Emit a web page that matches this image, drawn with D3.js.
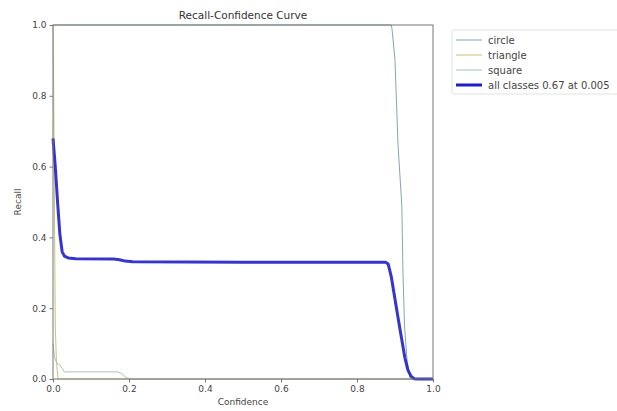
<!DOCTYPE html>
<html>
<head>
<meta charset="utf-8">
<script src="https://cdn.jsdelivr.net/npm/d3@7"></script>
<style>
  html, body { margin: 0; padding: 0; background: #fff; overflow: hidden; }
  #chart { width: 617px; height: 411px; }
  text { font-family: "DejaVu Sans", sans-serif; }
</style>
</head>
<body>
<div id="chart"></div>
<script>
// [confidence, recall] pairs
const circleCurve = [[0, 1.0], [0.89, 1.0], [0.892, 0.99], [0.9, 0.9], [0.908, 0.66], [0.918, 0.49], [0.921, 0.3], [0.925, 0.15], [0.932, 0.05], [0.94, 0.0], [1.0, 0.0]]
const triangleCurve = [[0, 1.0], [0.002, 0.8], [0.004, 0.45], [0.006, 0.15], [0.009, 0.05], [0.013, 0.0], [1.0, 0.0]]
const squareCurve = [[0, 0.1], [0.004, 0.06], [0.01, 0.045], [0.018, 0.04], [0.024, 0.03], [0.03, 0.02], [0.17, 0.02], [0.18, 0.016], [0.19, 0.006], [0.2, 0.0], [1.0, 0.0]]
const allCurve = [[0, 0.68], [0.006, 0.6], [0.012, 0.5], [0.018, 0.41], [0.024, 0.36], [0.03, 0.347], [0.04, 0.342], [0.06, 0.34], [0.16, 0.339], [0.175, 0.337], [0.19, 0.333], [0.21, 0.331], [0.5, 0.33], [0.875, 0.33], [0.882, 0.325], [0.89, 0.29], [0.9, 0.225], [0.91, 0.16], [0.918, 0.11], [0.926, 0.06], [0.934, 0.025], [0.942, 0.008], [0.95, 0.001], [0.96, 0.0], [1.0, 0.0]]

const seriesNames = ['circle', 'triangle', 'square', 'all classes 0.67 at 0.005']
const seriesData = [circleCurve, triangleCurve, squareCurve, allCurve]
const seriesColors = ['#86a6ab', '#c7c27c', '#a9c0b3', '#1f1fc8']
const seriesWidths = [1, 1, 1, 3]

const xTicks = [0, 0.2, 0.4, 0.6, 0.8, 1.0]
const yTicks = [0, 0.2, 0.4, 0.6, 0.8, 1.0]

const width = 617
const height = 411
const margin = { top: 25, right: 184, bottom: 32, left: 53 }

const svg = d3.select('#chart').append('svg')
    .attr('width', width).attr('height', height)

const x = d3.scaleLinear().domain([0, 1]).range([margin.left, width - margin.right])
const y = d3.scaleLinear().domain([0, 1]).range([height - margin.bottom, margin.top])

svg.append('defs').append('clipPath').attr('id', 'plot-clip')
    .append('rect')
    .attr('x', x(0) - 2).attr('y', y(1) - 2)
    .attr('width', x(1) - x(0) + 4).attr('height', y(0) - y(1) + 4)

const line = d3.line().x(d => x(d[0])).y(d => y(d[1]))

// Curves
const plot = svg.append('g').attr('clip-path', 'url(#plot-clip)')
seriesData.forEach((data, i) => {
    plot.append('path')
        .datum(data)
        .attr('d', line)
        .attr('fill', 'none')
        .attr('stroke', seriesColors[i])
        .attr('stroke-width', seriesWidths[i])
        .attr('stroke-linejoin', 'round')
        .attr('opacity', i === 3 ? 0.9 : 1)
})

// Axes
const xAxis = svg.append('g')
    .attr('transform', `translate(0,${y(0)})`)
    .call(d3.axisBottom(x).tickValues(xTicks).tickFormat(d3.format('.1f')).tickSize(3.5).tickPadding(3))
const yAxis = svg.append('g')
    .attr('transform', `translate(${x(0)},0)`)
    .call(d3.axisLeft(y).tickValues(yTicks).tickFormat(d3.format('.1f')).tickSize(3.5).tickPadding(3))
;[xAxis, yAxis].forEach(a => {
    a.select('.domain').remove()
    a.selectAll('.tick line').attr('stroke', '#777')
    a.selectAll('text').attr('fill', '#444').attr('font-size', '9px')
})

// Spines
svg.append('rect')
    .attr('x', x(0)).attr('y', y(1))
    .attr('width', x(1) - x(0)).attr('height', y(0) - y(1))
    .attr('fill', 'none').attr('stroke', '#777').attr('stroke-width', 1)

// Title and axis labels
svg.append('text')
    .attr('x', (x(0) + x(1)) / 2).attr('y', 19)
    .attr('text-anchor', 'middle').attr('fill', '#333').attr('font-size', '10.5px')
    .text('Recall-Confidence Curve')

svg.append('text')
    .attr('x', (x(0) + x(1)) / 2).attr('y', 405)
    .attr('text-anchor', 'middle').attr('fill', '#444').attr('font-size', '9px')
    .text('Confidence')

svg.append('text')
    .attr('transform', `translate(21,${(y(0) + y(1)) / 2}) rotate(-90)`)
    .attr('text-anchor', 'middle').attr('fill', '#444').attr('font-size', '9px')
    .text('Recall')

// Legend
const legend = svg.append('g').attr('transform', 'translate(452,30)')
legend.append('rect')
    .attr('x', 0).attr('y', 0).attr('width', 180).attr('height', 64)
    .attr('rx', 2).attr('fill', '#fff').attr('stroke', '#e2e2e2')
seriesNames.forEach((name, i) => {
    const ly = 10 + i * 15
    legend.append('line')
        .attr('x1', 4).attr('x2', 30).attr('y1', ly).attr('y2', ly)
        .attr('stroke', seriesColors[i]).attr('stroke-width', seriesWidths[i])
    legend.append('text')
        .attr('x', 36).attr('y', ly).attr('dy', '0.35em')
        .attr('fill', '#444').attr('font-size', '10px')
        .text(name)
})
</script>
</body>
</html>
